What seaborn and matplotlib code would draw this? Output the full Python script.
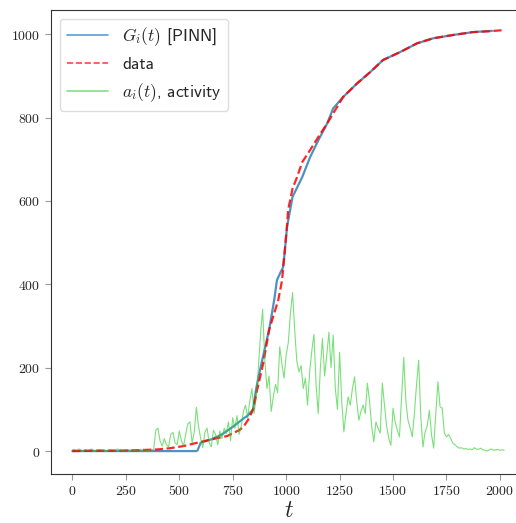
import numpy as np
import pandas as pd
import matplotlib
matplotlib.use("Agg")
import matplotlib.pyplot as plt
from matplotlib.ticker import FuncFormatter
import seaborn as sns

####Data#######################################################################
# G_i(t) from the PINN
t_pinn = [0, 300, 580, 586, 600, 650, 700, 750, 800, 820, 845, 860, 880, 900,
          920, 944, 957, 972, 985, 992, 1004, 1030, 1075, 1112, 1150, 1192,
          1220, 1266, 1332, 1393, 1453, 1533, 1612, 1687, 1780, 1874, 1963]
g_pinn = [0, 0, 0, 2, 20, 28, 40, 58, 78, 85, 100, 150, 200, 245,
          290, 362, 410, 427, 440, 470, 537, 610, 657, 705, 745, 786,
          822, 849, 882, 909, 938, 957, 978, 990, 998, 1005, 1008]

# observed data
t_data = [0, 100, 200, 300, 350, 400, 458, 520, 584, 650, 724, 780, 800, 822,
          846, 864, 893, 920, 963, 981, 995, 1004, 1009, 1030, 1051, 1075,
          1112, 1150, 1192, 1238, 1266, 1332, 1393, 1453, 1533, 1612, 1687,
          1780, 1874, 1950, 2023]
g_data = [0, 1, 1, 2, 3, 4, 7, 12, 20, 28, 36, 50, 58, 75,
          100, 146, 211, 290, 362, 410, 489, 540, 578, 630, 657, 693,
          722, 753, 786, 825, 849, 882, 909, 938, 957, 978, 990,
          998, 1005, 1007, 1010]

# activity a_i(t), every 10 time units
a_act = [3, 4, 2, 5, 3, 1, 4, 2, 3, 5, 2, 1, 3, 4, 2, 3, 1, 2, 4, 3,
         2, 5, 3, 2, 1, 3, 4, 2, 3, 1, 2, 3, 4, 2, 3, 1, 2, 4, 3,
         50, 55, 25, 12, 30, 15, 10, 40, 45, 20, 15, 48, 25, 12, 40, 65,
         70, 20, 45, 105, 60,
         30, 8, 45, 55, 20, 10, 50, 40, 15, 48, 30, 55, 42, 70, 25, 80,
         55, 85, 40, 60, 95,
         110, 80, 120, 150, 90, 130, 200, 280, 340, 220, 150, 180, 95, 130,
         160, 140, 250, 210, 175, 230,
         260, 330, 380, 290, 215, 190, 205, 150, 175, 110, 190, 240, 280,
         160, 90, 200, 270, 180, 230, 285, 200, 278, 150, 100, 237,
         120, 46, 90, 130, 110, 150, 178, 120, 74, 95, 110, 90, 163, 120,
         60, 22, 70, 55, 43, 163, 110, 60, 30, 14, 103,
         70, 50, 34, 130, 225, 120, 74, 55, 34, 90, 160, 218, 80, 10, 46,
         60, 98, 40, 7, 90, 166, 106, 103, 43, 34,
         40, 30, 19, 15, 10, 7, 8, 5, 6, 4, 5, 3, 8, 5, 4, 7, 3, 2, 0, 3,
         5, 2, 3, 4, 2, 3, 2]
t_act = list(range(0, 10 * len(a_act), 10))

####Plot#######################################################################
sns.set_style("ticks")
plt.rcParams["mathtext.fontset"] = "cm"

fig = plt.figure(figsize=(5.16, 5.23), dpi=100)
ax = fig.add_axes([51 / 516, 49 / 523, 475 / 516, 464 / 523])

sns.lineplot(x=t_pinn, y=g_pinn, ax=ax, color="#1f77b4", alpha=0.8, lw=1.6,
             label=r"$G_i(t)$ [PINN]")
sns.lineplot(x=t_data, y=g_data, ax=ax, color="red", alpha=0.85, lw=1.6,
             linestyle="--", label="data")
sns.lineplot(x=t_act, y=a_act, ax=ax, color="#22cc22", alpha=0.6, lw=0.8,
             label=r"$a_i(t)$, activity")

ax.set_xlim(-100, 2122)
ax.set_ylim(-55, 1058)
ax.set_xticks(range(0, 2001, 250))
ax.set_yticks(range(0, 1001, 200))
fmt = FuncFormatter(lambda v, p: f"${v:.0f}$")
ax.xaxis.set_major_formatter(fmt)
ax.yaxis.set_major_formatter(fmt)
ax.tick_params(labelsize=10, length=4, color="#999999")
for s in ax.spines.values():
    s.set_color("#333333")
ax.set_xlabel(r"$t$", fontsize=17, labelpad=0)
ax.set_ylabel("")

leg = ax.legend(loc="upper left", prop={"family": "cmss10", "size": 12.5},
                handlelength=2.4, edgecolor="#dddddd", framealpha=1)
handle_cols = ["#5b9bd5", "#ff4444", "#88dd88"]
for ln, c in zip(leg.get_lines(), handle_cols):
    ln.set_color(c)
    ln.set_alpha(1)
    ln.set_linewidth(1.2)

fig.savefig("out.png", dpi=100)
